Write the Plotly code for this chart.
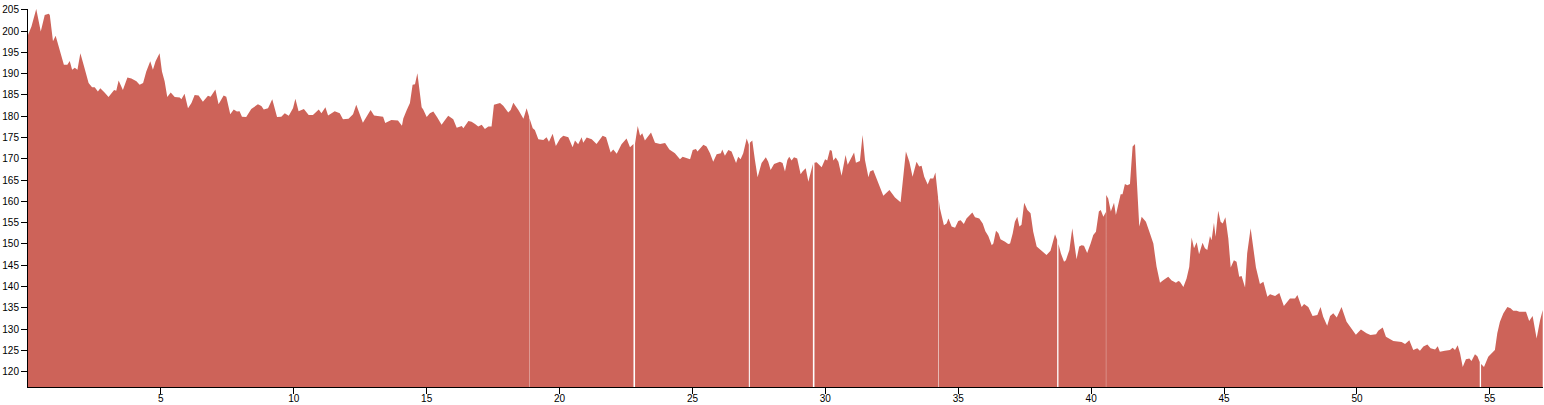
import plotly.graph_objects as go

# distance (x) and reading (y); None marks a break in the record
distance = [
    0, 0.13, 0.31, 0.48, 0.63, 0.78, 0.82, 0.94, 1.04, 1.19, 1.35, 1.48, 1.57, 1.66, 1.76, 1.86, 1.97,
    2.11, 2.28, 2.41, 2.51, 2.63, 2.72, 2.88, 3.03, 3.24, 3.32, 3.41, 3.57, 3.74, 3.89, 4.08, 4.20,
    4.33, 4.45, 4.60, 4.70, 4.80, 4.95, 5.04, 5.14, 5.24, 5.37, 5.52, 5.71, 5.77, 5.89, 6.02, 6.15,
    6.27, 6.42, 6.58, 6.77, 6.87, 7.05, 7.17, 7.36, 7.46, 7.61, 7.74, 7.86, 7.96, 8.05, 8.21, 8.40,
    8.65, 8.78, 8.87, 9.03, 9.19, 9.37, 9.53, 9.66, 9.81, 9.97, 10.06, 10.18, 10.38, 10.56, 10.72,
    10.94, 11.04, 11.19, 11.29, 11.54, 11.73, 11.85, 12.06, 12.23, 12.35, 12.60, 12.89, 13.02, 13.36,
    13.44, 13.67, 13.92, 14.07,
    14.12, 14.25, 14.37, 14.47, 14.56, 14.65, 14.72, 14.81, 14.87, 15.00, 15.12, 15.25, 15.40, 15.56,
    15.69, 15.81, 16.00, 16.13, 16.32, 16.38, 16.57, 16.69, 16.82, 16.94, 17.07, 17.19, 17.32, 17.44,
    17.53, 17.76, 17.88, 18.07, 18.16, 18.26, 18.45, 18.64, 18.76, 18.855, 18.86, 18.865, 18.99, 19.07,
    19.20, 19.39, 19.51, 19.60, 19.74, 19.86, 20.02, 20.14, 20.33, 20.49, 20.58, 20.70, 20.83, 20.89,
    21.02, 21.21, 21.39, 21.62, 21.75, 21.92, 22.02, 22.15, 22.33, 22.52, 22.65, 22.78, 22.81, 22.84,
    22.94, 23.03, 23.11, 23.21, 23.44, 23.59, 23.78, 23.97, 24.13, 24.34, 24.43, 24.53, 24.63, 24.81,
    24.91, 25.01, 25.13, 25.19, 25.41, 25.53, 25.66, 25.78, 25.91, 26.07, 26.12, 26.22, 26.35, 26.47,
    26.64, 26.72, 26.81, 26.91, 27.04, 27.12, 27.14, 27.16, 27.25, 27.35, 27.45, 27.60, 27.76, 27.85,
    27.94, 28.07, 28.29, 28.39, 28.48, 28.57,
    28.64, 28.73, 28.82, 28.94, 29.07, 29.14, 29.26, 29.36, 29.53, 29.56, 29.59, 29.67, 29.86, 29.99,
    30.07, 30.17, 30.24, 30.30, 30.39, 30.49, 30.61, 30.76, 30.84, 30.93, 31.08, 31.15, 31.30, 31.40,
    31.49, 31.62, 31.68, 31.80, 31.93, 32.05, 32.18, 32.41, 32.62, 32.83, 32.93, 33.03, 33.16, 33.28,
    33.43, 33.53, 33.62, 33.72, 33.85, 33.94, 34.06, 34.14, 34.21, 34.24, 34.25, 34.26, 34.31, 34.46,
    34.56, 34.63, 34.75, 34.88, 35.00, 35.09, 35.21, 35.31, 35.53, 35.63, 35.79, 35.92, 36.02, 36.13,
    36.26, 36.32, 36.42, 36.51, 36.59, 36.76, 36.88, 36.95, 37.05, 37.13, 37.22, 37.30, 37.38, 37.48,
    37.60, 37.72, 37.82, 37.95, 38.07, 38.22, 38.32, 38.47, 38.58, 38.64, 38.70, 38.72, 38.745, 38.77,
    38.86, 38.98, 39.05, 39.18, 39.29, 39.37, 39.45, 39.55, 39.64, 39.73, 39.85, 39.98, 40.08, 40.18,
    40.29, 40.36, 40.46, 40.555, 40.56, 40.565, 40.64, 40.74, 40.86, 40.93, 41.11, 41.18, 41.27, 41.36,
    41.46, 41.56, 41.65, 41.71, 41.81, 41.90, 42.06, 42.21, 42.34, 42.46, 42.59, 42.71,
    42.90, 43.03, 43.19, 43.28, 43.34, 43.47, 43.59, 43.69, 43.78, 43.87, 43.97, 44.06, 44.19, 44.28,
    44.37, 44.47, 44.53, 44.62, 44.68, 44.78, 44.87, 44.95, 45.05, 45.16, 45.25, 45.37, 45.47, 45.57,
    45.66, 45.79, 45.87, 46.00, 46.10, 46.20, 46.35, 46.48, 46.63, 46.73, 46.92, 47.08, 47.25, 47.48,
    47.67, 47.76, 47.92, 48.01, 48.17, 48.33, 48.51, 48.63, 48.73, 48.88, 48.99, 49.11, 49.24, 49.42,
    49.61, 49.80, 49.96, 50.15, 50.36, 50.51, 50.72, 50.80, 50.97, 51.09, 51.37, 51.68, 51.81, 51.97,
    52.12, 52.27, 52.37, 52.50, 52.65, 52.77, 52.94, 53.04, 53.12, 53.31, 53.50, 53.60, 53.69, 53.79,
    53.88, 53.98, 54.10, 54.23, 54.31, 54.44, 54.53, 54.62, 54.645, 54.67, 54.78, 54.94, 55.13, 55.19,
    55.28, 55.38, 55.51, 55.66, 55.78, 55.88, 56.01, 56.11, 56.36, 56.48, 56.61, 56.76, 56.89, 56.99,
]

value = [
    199.1, 201.1, 205.2, 199.9, 203.8, 204.1, 203.8, 197.6, 198.9, 195.6, 192.1, 192.1, 193.0, 190.9, 191.4, 190.9, 194.8,
    191.7, 187.8, 186.8, 186.8, 185.8, 186.6, 185.6, 184.5, 186.2, 186.0, 188.4, 186.2, 189.1, 188.9, 188.2, 187.4,
    187.8, 190.5, 192.9, 190.9, 192.9, 194.8, 190.5, 188.2, 184.5, 185.6, 184.5, 184.4, 184.0, 185.3, 181.9, 183.1,
    185.0, 184.9, 183.4, 184.8, 184.6, 186.3, 182.8, 184.9, 184.6, 180.5, 181.6, 181.1, 181.2, 179.9, 179.8, 181.7,
    182.8, 182.4, 181.6, 181.9, 184.0, 179.8, 179.9, 180.7, 180.1, 181.9, 184.1, 181.2, 181.7, 180.3, 180.3,
    181.6, 180.7, 182.1, 180.2, 181.2, 180.7, 179.3, 179.4, 180.5, 182.7, 178.5, 181.5, 180.2, 179.9,
    178.4, 179.1, 179.0, 177.8,
    179.5, 181.5, 183.1, 187.4, 187.5, 190.1, 186.2, 182.1, 181.6, 179.8, 180.7, 181.1, 179.7, 178.0,
    179.1, 180.1, 179.3, 177.3, 177.7, 177.2, 178.9, 178.7, 178.2, 177.6, 178.0, 177.0, 177.6, 177.6,
    182.7, 183.1, 182.5, 180.9, 181.5, 183.2, 181.5, 179.4, 181.9, 179.9, None, 179.6, 177.2, 176.8,
    174.6, 174.4, 175.1, 174.0, 175.9, 173.0, 174.8, 175.4, 175.1, 172.7, 174.3, 173.4, 175.1, 173.8,
    175.0, 174.6, 173.5, 175.4, 175.1, 171.5, 172.2, 171.2, 173.4, 174.8, 172.7, 173.5, None, 173.6,
    177.7, 175.4, 176.0, 174.3, 176.2, 173.8, 173.5, 173.7, 172.2, 171.3, 170.7, 169.9, 170.5, 170.1,
    169.9, 172.1, 172.3, 171.7, 173.3, 172.9, 171.3, 169.3, 171.1, 171.3, 172.2, 170.7, 172.1, 171.7,
    169.0, 170.5, 169.9, 171.3, 174.8, 173.3, None, 173.8, 174.3, 169.7, 165.7, 169.0, 170.4, 169.3,
    167.4, 168.8, 169.3, 169.0, 167.0, 169.7,
    170.5, 169.6, 170.4, 170.1, 166.4, 167.0, 167.8, 164.6, 168.8, None, 169.1, 169.2, 168.0, 169.9,
    169.6, 172.1, 171.9, 169.6, 170.3, 169.3, 166.0, 170.9, 168.6, 169.7, 171.5, 169.1, 169.5, 175.6,
    169.7, 165.7, 167.0, 167.4, 165.2, 163.1, 161.3, 162.7, 160.9, 159.8, 165.8, 171.7, 169.3, 165.8,
    169.3, 168.2, 168.4, 165.8, 164.0, 165.4, 165.4, 166.8, 162.7, 161.0, None, 160.6, 158.4, 154.4,
    154.8, 156.0, 154.1, 153.8, 155.4, 155.6, 154.7, 156.0, 157.4, 156.3, 156.0, 154.8, 153.0, 151.9,
    149.7, 150.1, 153.1, 152.5, 151.1, 150.5, 150.0, 150.1, 152.5, 155.2, 156.4, 154.1, 154.5, 159.7,
    158.0, 157.2, 152.9, 149.4, 148.7, 148.0, 147.4, 148.4, 150.9, 152.3, 151.3, 151.0, None, 150.0,
    147.8, 145.8, 146.2, 148.6, 153.7, 150.0, 146.4, 149.4, 149.7, 149.6, 147.9, 150.1, 152.1, 152.9,
    157.6, 158.0, 156.4, 157.5, None, 161.5, 160.7, 157.6, 159.7, 156.8, 161.7, 161.7, 164.1, 163.8,
    164.1, 172.9, 173.5, 165.8, 154.1, 156.4, 155.2, 152.5, 150.1, 144.7, 140.9, 141.5,
    142.3, 141.4, 140.9, 141.3, 141.1, 139.9, 141.9, 144.6, 151.5, 149.0, 150.4, 147.6, 150.3, 149.0,
    148.6, 151.9, 150.9, 155.0, 151.7, 157.8, 155.2, 154.8, 156.3, 151.3, 144.5, 146.2, 145.8, 142.3,
    142.5, 139.8, 147.8, 153.7, 149.4, 144.5, 140.6, 141.1, 137.6, 138.2, 137.8, 138.5, 135.4, 137.2,
    137.2, 138.0, 135.2, 135.9, 135.2, 133.1, 133.3, 135.2, 132.9, 130.8, 133.1, 133.7, 132.7, 135.2,
    131.7, 129.9, 128.7, 129.9, 129.0, 128.6, 128.8, 129.6, 130.4, 128.2, 127.2, 127.0, 126.5, 127.4,
    125.1, 125.5, 124.9, 125.9, 126.4, 125.5, 125.2, 126.0, 124.7, 124.9, 125.1, 125.6, 125.1, 126.2,
    124.3, 121.1, 122.9, 123.1, 122.5, 124.1, 123.6, 122.3, None, 121.8, 121.1, 123.5, 124.9, 125.1,
    129.0, 131.7, 133.7, 135.2, 134.9, 134.3, 134.3, 134.1, 134.1, 131.9, 133.1, 127.8, 132.1, 134.5,
]

x_ticks = [5, 10, 15, 20, 25, 30, 35, 40, 45, 50, 55]
y_ticks = [120, 125, 130, 135, 140, 145, 150, 155, 160, 165, 170, 175, 180, 185, 190, 195, 200, 205]

FILL = 'rgb(205,99,89)'

# plotly bridges gaps inside one filled trace, so each unbroken run gets its own trace
segments = []
seg_x, seg_y = [], []
for d, v in zip(distance, value):
    if v is None:
        segments.append((seg_x, seg_y))
        seg_x, seg_y = [], []
    else:
        seg_x.append(d)
        seg_y.append(v)
segments.append((seg_x, seg_y))

fig = go.Figure()

for sx, sy in segments:
    fig.add_trace(go.Scatter(
        x=sx,
        y=sy,
        mode='lines',
        fill='tozeroy',
        fillcolor=FILL,
        line=dict(color=FILL, width=0),
        hoverinfo='x+y',
        showlegend=False
    ))

axis_font = dict(family='Liberation Sans, Arial, sans-serif', size=10, color='#000')

fig.update_layout(
    width=1544,
    height=405,
    margin=dict(l=28, r=1, t=9, b=18),
    paper_bgcolor='white',
    plot_bgcolor='white',
    showlegend=False,
    xaxis=dict(
        range=[0, 57],
        tickvals=x_ticks,
        ticks='outside',
        ticklen=6,
        tickwidth=1,
        tickcolor='#000',
        ticklabelstandoff=-4,
        showline=True,
        linecolor='#000',
        linewidth=1,
        showgrid=False,
        zeroline=False,
        automargin=False,
        tickfont=axis_font
    ),
    yaxis=dict(
        range=[116.4, 205.2],
        tickvals=y_ticks,
        ticks='outside',
        ticklen=6,
        tickwidth=1,
        tickcolor='#000',
        showline=True,
        linecolor='#000',
        linewidth=1,
        showgrid=False,
        zeroline=False,
        automargin=False,
        tickfont=axis_font
    )
)

# page has a default body margin; drop it so the chart sits at the window edge
fig.write_html(
    "out.html",
    config={'displayModeBar': False},
    post_script="document.body.style.margin='0';document.body.style.overflow='hidden';"
)
